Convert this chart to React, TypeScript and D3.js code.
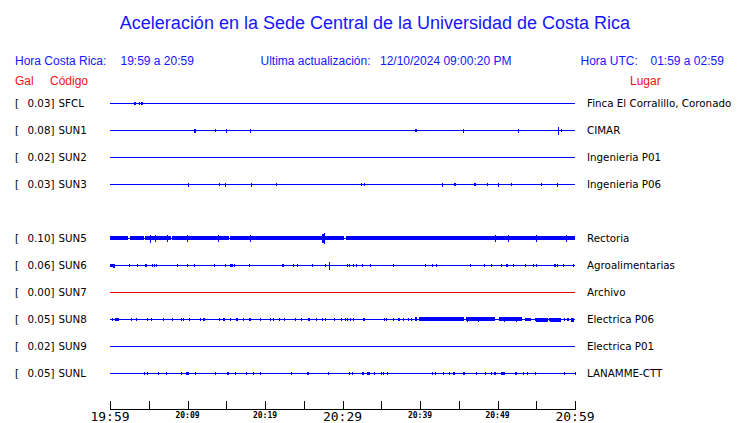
import * as d3 from 'd3';

// stations, top to bottom (slot 4 = SUN4 is absent)
const stationCodes = ["SFCL", "SUN1", "SUN2", "SUN3", "SUN5", "SUN6", "SUN7", "SUN8", "SUN9", "SUNL"];
const stationSlots = [0, 1, 2, 3, 5, 6, 7, 8, 9, 10];
const peakGal = [0.03, 0.08, 0.02, 0.03, 0.10, 0.06, 0.00, 0.05, 0.02, 0.05];
const places = [
  "Finca El Corralillo, Coronado", "CIMAR", "Ingenieria P01", "Ingenieria P06",
  "Rectoria", "Agroalimentarias", "Archivo", "Electrica P06", "Electrica P01", "LANAMME-CTT",
];
const traceColors = ["#0000ff", "#0000ff", "#0000ff", "#0000ff", "#0000ff", "#0000ff", "#e80000", "#0000ff", "#0000ff", "#0000ff"];

// spikes: [minute after 19:59, amplitude]
const spikes: [number, number][][] = [
  [],
  [[13.5, 0.1], [15.0, 0.15], [18.0, 0.15], [45.6, 0.15], [52.7, 0.15], [57.8, 0.35], [58.2, 0.1]],
  [],
  [[10.1, 0.15], [14.1, 0.1], [14.8, 0.15], [18.2, 0.15], [21.4, 0.1], [32.4, 0.12], [32.8, 0.1], [42.8, 0.15],
   [48.7, 0.12], [50.0, 0.15], [51.8, 0.12], [55.6, 0.12], [57.7, 0.15]],
  [[5.2, 0.35], [5.8, 0.3], [7.3, 0.3], [9.9, 0.3], [13.9, 0.3], [18.0, 0.3], [27.6, 0.5], [49.7, 0.3], [51.3, 0.3],
   [55.0, 0.28], [58.8, 0.3]],
  [[2.5, 0.12], [3.5, 0.12], [5.4, 0.12], [5.7, 0.12], [5.9, 0.12], [8.6, 0.08], [9.9, 0.12], [10.9, 0.12], [13.4, 0.12],
   [14.9, 0.12], [15.5, 0.12], [16.0, 0.12], [17.9, 0.08], [23.6, 0.12], [24.1, 0.12], [26.0, 0.12], [27.8, 0.12],
   [28.2, 0.35], [30.6, 0.12], [30.8, 0.12], [31.3, 0.08], [31.7, 0.08], [32.5, 0.12], [33.5, 0.12], [36.5, 0.12],
   [40.7, 0.08], [41.6, 0.12], [42.0, 0.12], [46.5, 0.08], [48.2, 0.12], [49.1, 0.12], [50.5, 0.12], [52.0, 0.12],
   [53.6, 0.08], [54.6, 0.12], [55.0, 0.12], [57.7, 0.12], [58.5, 0.12], [59.8, 0.12]],
  [],
  [[0.3, 0.08], [0.6, 0.08], [2.7, 0.12], [3.3, 0.12], [4.8, 0.12], [5.3, 0.12], [6.9, 0.08], [8.0, 0.12], [9.2, 0.1],
   [9.4, 0.12], [10.2, 0.12], [11.6, 0.08], [14.1, 0.12], [14.7, 0.12], [15.5, 0.08], [17.1, 0.12], [17.9, 0.12],
   [18.1, 0.12], [19.3, 0.12], [20.6, 0.08], [21.0, 0.12], [21.8, 0.08], [22.5, 0.1], [23.9, 0.12], [24.6, 0.12],
   [26.6, 0.12], [27.3, 0.08], [27.7, 0.12], [28.9, 0.12], [29.8, 0.08], [30.3, 0.08], [30.6, 0.12], [31.0, 0.12],
   [31.3, 0.12], [35.3, 0.08], [35.6, 0.08], [36.5, 0.12], [37.8, 0.08], [38.5, 0.08], [38.8, 0.1],
   [46.1, 0.2], [47.5, 0.2], [50.9, 0.2], [52.4, 0.2], [54.8, 0.12], [56.7, 0.12], [58.6, 0.1]],
  [],
  [[4.4, 0.12], [4.8, 0.12], [6.2, 0.12], [7.2, 0.12], [9.2, 0.08], [11.0, 0.08], [13.5, 0.12], [16.1, 0.08],
   [17.5, 0.08], [18.5, 0.12], [19.3, 0.12], [23.4, 0.12], [28.1, 0.08], [30.8, 0.12], [31.2, 0.12], [33.1, 0.12],
   [34.0, 0.08], [35.0, 0.08], [35.2, 0.08], [35.7, 0.12], [41.6, 0.12], [41.9, 0.12], [43.0, 0.12], [43.8, 0.12],
   [47.2, 0.12], [48.4, 0.08], [49.1, 0.08], [53.3, 0.12], [53.8, 0.08], [54.8, 0.08], [58.6, 0.08], [60, 0.12]],
];

// bursts: [start minute, end minute, amplitude]
const bursts: [number, number, number][][] = [
  [[3.1, 3.3, 0.1], [3.75, 3.9, 0.1], [4.0, 4.3, 0.12]],
  [[10.9, 11.2, 0.15], [39.4, 39.6, 0.12]],
  [],
  [[44.4, 44.6, 0.12], [47.0, 47.3, 0.12]],
  [[0, 2.35, 0.17], [2.55, 4.35, 0.17], [4.5, 7.85, 0.17], [8.0, 15.35, 0.17], [15.5, 30.2, 0.17],
   [30.45, 60, 0.17], [27.4, 27.8, 0.4]],
  [[0, 0.5, 0.12], [0.4, 0.7, 0.15], [4.5, 4.8, 0.12], [15.6, 15.9, 0.12], [22.2, 22.5, 0.12], [51.1, 51.4, 0.12],
   [57.3, 57.6, 0.12]],
  [],
  [[0.8, 1.2, 0.12], [12.0, 12.3, 0.12], [14.6, 14.8, 0.12], [16.2, 16.4, 0.1], [25.6, 25.8, 0.12], [32.6, 32.9, 0.12],
   [37.1, 37.3, 0.12], [39.4, 39.7, 0.16], [39.9, 45.7, 0.16], [45.9, 49.6, 0.16], [50.2, 53.2, 0.16],
   [53.5, 54.3, 0.12], [55.0, 56.5, 0.14], [56.8, 58.2, 0.14], [59.0, 59.2, 0.12], [59.5, 59.9, 0.15]],
  [],
  [[9.8, 10.2, 0.12], [15.1, 15.3, 0.12], [25.4, 25.6, 0.12], [32.5, 32.7, 0.12], [33.3, 33.5, 0.12], [44.3, 44.5, 0.12],
   [45.6, 45.8, 0.12], [49.6, 49.9, 0.12], [50.5, 51.0, 0.12], [52.3, 52.5, 0.12]],
];

const tickMinutes = d3.range(0, 61, 5);
const bigLabelMinutes = [0, 30, 60];
const smallLabelMinutes = [10, 20, 40, 50];
const startTime = new Date(Date.UTC(2024, 11, 10, 19, 59));

const W = 740;
const H = 423;
const BLUE = "#1515ff";
const RED = "#f01010";
const SANS = "'Liberation Sans', Arial, sans-serif";
const DEJAVU = "'DejaVu Sans', sans-serif";
const MONO = "'DejaVu Sans Mono', monospace";

const x = d3.scaleTime()
  .domain([startTime, d3.utcMinute.offset(startTime, 60)])
  .range([110, 575]);
const slotY = d3.scaleLinear().domain([0, 10]).range([103, 373]);
const amp = d3.scaleLinear().domain([0, 1]).range([0, 10]);
const fmt = d3.utcFormat("%H:%M");
const at = (m: number) => x(d3.utcSecond.offset(startTime, Math.round(m * 60)));
const px = (m: number) => Math.round(at(m)) + 0.5;

export default function App() {
  const axisY = 409;
  return (
    <svg width={W} height={H} style={{ position: "absolute", left: 0, top: 0, background: "#fff" }}>
      <rect width={W} height={H} fill="#fff" />
      <text x={375} y={29} textAnchor="middle" fontFamily={SANS} fontSize={18} fill={BLUE}>
        Aceleración en la Sede Central de la Universidad de Costa Rica
      </text>

      <g fontFamily={SANS} fontSize={12} fill={BLUE}>
        <text x={15} y={65}>Hora Costa Rica:</text>
        <text x={120.5} y={65}>19:59 a 20:59</text>
        <text x={260.5} y={65}>Ultima actualización:</text>
        <text x={380} y={65}>12/10/2024 09:00:20 PM</text>
        <text x={580.5} y={65}>Hora UTC:</text>
        <text x={650.5} y={65}>01:59 a 02:59</text>
      </g>
      <g fontFamily={SANS} fontSize={12} fill={RED}>
        <text x={15} y={85}>Gal</text>
        <text x={50} y={85}>Código</text>
        <text x={630} y={85}>Lugar</text>
      </g>

      {stationCodes.map((code, i) => {
        const y = slotY(stationSlots[i]);
        const yc = Math.round(y) + 0.5;
        const color = traceColors[i];
        return (
          <g key={code}>
            <g fontFamily={DEJAVU} fontSize={10.3} fill="#000">
              <text x={15} y={y + 4}>[</text>
              <text x={54.5} y={y + 4} textAnchor="end">{peakGal[i].toFixed(2)}]</text>
              <text x={58.5} y={y + 4}>{code}</text>
              <text x={587} y={y + 4}>{places[i]}</text>
            </g>
            <line x1={x.range()[0]} x2={x.range()[1]} y1={yc} y2={yc} stroke={color} strokeWidth={1} />
            <g shapeRendering="crispEdges">
              {bursts[i].map(([s, e, a], k) => (
                <rect key={"b" + k} x={Math.round(at(s))} width={Math.max(1, Math.round(at(e) - at(s)))}
                  y={Math.round(y - amp(a))} height={Math.round(2 * amp(a)) + 1} fill={color} />
              ))}
              {spikes[i].map(([m, a], k) => (
                <line key={"s" + k} x1={px(m)} x2={px(m)} y1={Math.round(y - amp(a))} y2={Math.round(y + amp(a)) + 1}
                  stroke={color} strokeWidth={1} />
              ))}
            </g>
          </g>
        );
      })}

      <g stroke="#000" strokeWidth={1}>
        <line x1={x.range()[0]} x2={x.range()[1] + 1} y1={axisY + 0.5} y2={axisY + 0.5} />
        {tickMinutes.map(m => (
          <line key={m} x1={px(m)} x2={px(m)} y1={axisY} y2={axisY - 8} />
        ))}
      </g>
      {bigLabelMinutes.map(m => (
        <text key={m} x={at(m)} y={421} textAnchor="middle" fontFamily={MONO} fontSize={13} fill="#000">
          {fmt(d3.utcMinute.offset(startTime, m))}
        </text>
      ))}
      {smallLabelMinutes.map(m => (
        <text key={m} x={at(m)} y={417.5} textAnchor="middle" fontFamily={MONO} fontSize={8}
          fontWeight="bold" fill="#000">
          {fmt(d3.utcMinute.offset(startTime, m))}
        </text>
      ))}
    </svg>
  );
}
